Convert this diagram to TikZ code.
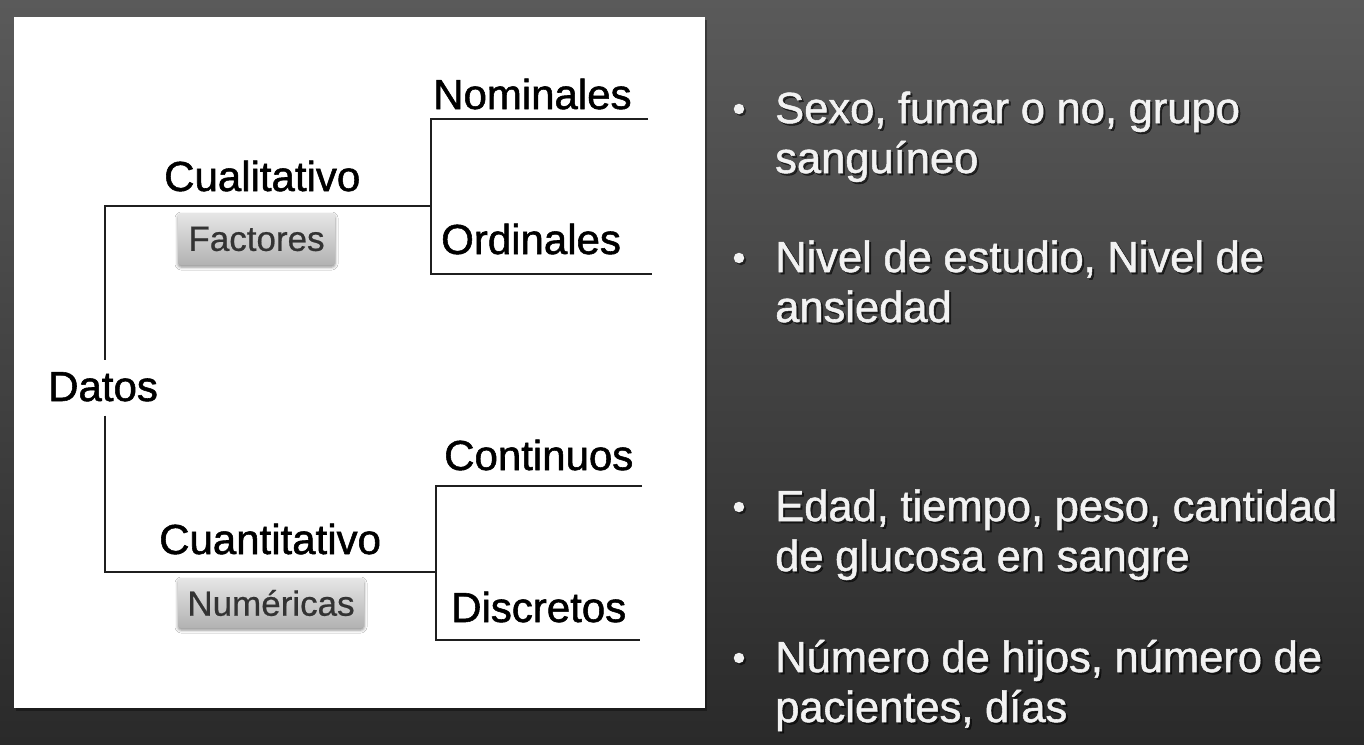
\documentclass[tikz,border=0pt]{standalone}
\usepackage{fontspec}
\setmainfont{Liberation Sans}
\newfontfamily\diagfont[FakeBold=1.3]{Liberation Sans}
\newfontfamily\tagfont[FakeBold=0.6]{Liberation Sans}
\newfontfamily\bulfont[FakeBold=1.2]{Liberation Sans}
\newcommand\bulsp{\setlength{\spaceskip}{11.6pt}}
\usetikzlibrary{shadows.blur}
\definecolor{bgtop}{HTML}{5A5A5A}
\definecolor{bgbot}{HTML}{2A2A2A}
\definecolor{txtw}{HTML}{F2F2F2}
\definecolor{boxtxt}{HTML}{333333}
\definecolor{boxtop}{HTML}{E6E6E6}
\definecolor{boxbot}{HTML}{B2B2B2}
\begin{document}
\begin{tikzpicture}[x=1pt,y=-1pt,
  lbl/.style={font=\diagfont\fontsize{42}{42}\selectfont, inner sep=0pt, anchor=base west, text=black},
  tagbox/.style={rounded corners=3pt, top color=boxtop, bottom color=boxbot, draw=none,
     font=\tagfont\fontsize{35}{35}\selectfont, text=boxtxt, inner sep=0pt,
     blur shadow={shadow xshift=0pt, shadow yshift=-2pt, shadow blur radius=3pt, shadow opacity=45}},
  branch/.style={line width=2pt, draw=black!88},
  bul/.style={font=\bulfont\fontsize{43.5}{50}\selectfont, text=txtw, inner sep=0pt, anchor=base west, text width=600pt, align=left},
  bulshd/.style={bul, text=black, opacity=0.55},
  dot/.style={circle, fill=txtw, inner sep=0pt, minimum size=10.5pt},
  dotshd/.style={circle, fill=black, opacity=0.55, inner sep=0pt, minimum size=10.5pt}]

% background
\shade[top color=bgtop, bottom color=bgbot] (0,0) rectangle (1364,744);
\useasboundingbox (0,0) rectangle (1364,744);

% white panel
\fill[black, opacity=0.35] (16,20) rectangle (707,711);
\fill[white] (14,17) rectangle (705,708);

% labels
\node[lbl] (datos) at (48,401) {Datos};
\node[lbl] (cual) at (164,191) {Cualitativo};
\node[lbl] (cuan) at (159,554) {Cuantitativo};
\node[lbl] (nom) at (433,109) {Nominales};
\node[lbl] (ord) at (441,254) {Ordinales};
\node[lbl] (cont) at (444,470) {Continuos};
\node[lbl] (disc) at (451,622) {Discretos};

\node[tagbox, minimum width=157pt, minimum height=52pt] (fact) at (256.5,239) {Factores};
\node[tagbox, minimum width=186pt, minimum height=50pt] (num) at (271,603) {Numéricas};

% junction coordinates
\coordinate (jcual) at (105,206);
\coordinate (jcualE) at (431,206);
\coordinate (nomS) at (431,119);
\coordinate (nomE) at (648,119);
\coordinate (ordS) at (431,274);
\coordinate (ordE) at (652,274);
\coordinate (jcuan) at (105,572);
\coordinate (jcuanE) at (436,572);
\coordinate (contS) at (436,486);
\coordinate (contE) at (642,486);
\coordinate (discS) at (436,640);
\coordinate (discE) at (640,640);

% connectors
\draw[branch] ([yshift=12pt]datos.north -| jcual) -- (jcual) -- (jcualE);
\draw[branch] (nomE) -- (nomS) -- (ordS) -- (ordE);
\draw[branch] ([yshift=-14pt]datos.south -| jcuan) -- (jcuan) -- (jcuanE);
\draw[branch] (contE) -- (contS) -- (discS) -- (discE);

% bullets (shadows first)
\node[dotshd] (d1s) at (741,111) {};
\node[dotshd] (d2s) at (741,260) {};
\node[dotshd] (d3s) at (741,509) {};
\node[dotshd] (d4s) at (741,660) {};
\node[dot] (d1) at (739,109) {};
\node[dot] (d2) at (739,258) {};
\node[dot] (d3) at (739,507) {};
\node[dot] (d4) at (739,658) {};

\node[bulshd] (t1s) at (777,125) {\bulsp Sexo, fumar o no, grupo\\sanguíneo};
\node[bulshd] (t2s) at (777,274) {\bulsp Nivel de estudio, Nivel de\\ansiedad};
\node[bulshd] (t3s) at (777,523) {\bulsp Edad, tiempo, peso, cantidad\\de glucosa en sangre};
\node[bulshd] (t4s) at (777,674) {\bulsp Número de hijos, número de\\pacientes, días};
\node[bul] (t1) at (775,123) {\bulsp Sexo, fumar o no, grupo\\sanguíneo};
\node[bul] (t2) at (775,272) {\bulsp Nivel de estudio, Nivel de\\ansiedad};
\node[bul] (t3) at (775,521) {\bulsp Edad, tiempo, peso, cantidad\\de glucosa en sangre};
\node[bul] (t4) at (775,672) {\bulsp Número de hijos, número de\\pacientes, días};
\end{tikzpicture}
\end{document}
